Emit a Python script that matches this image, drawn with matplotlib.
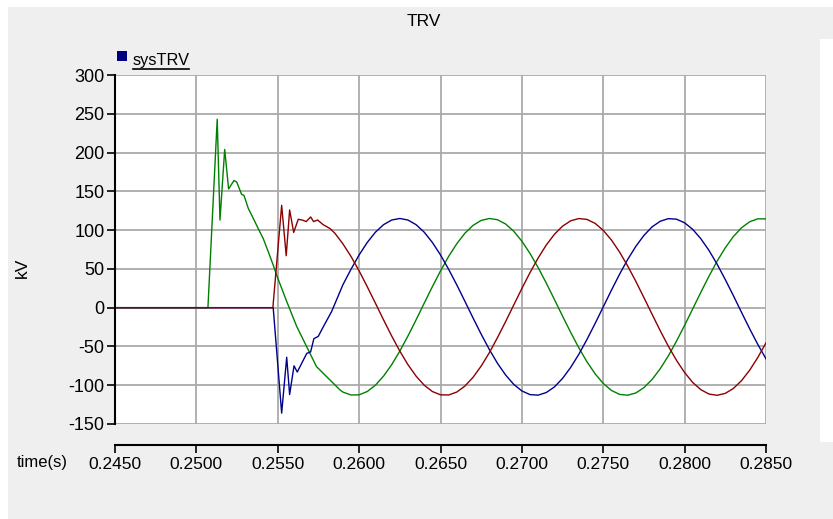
import numpy as np
import matplotlib
matplotlib.use('Agg')
import matplotlib.pyplot as plt
from matplotlib.patches import Rectangle
from matplotlib.lines import Line2D

plt.rcParams['font.family'] = ['Liberation Sans', 'DejaVu Sans']
plt.rcParams['axes.unicode_minus'] = False

# transient part after the breaker opens (time in s, value in kV)
t_green_tr = [0.2450, 0.25071, 0.25128, 0.25145, 0.25174, 0.25198, 0.25231, 0.25248,
              0.25278, 0.25292, 0.25319, 0.25350, 0.25380, 0.25411, 0.25442, 0.25472,
              0.25493, 0.25524, 0.25555, 0.25616, 0.25677, 0.25738, 0.25820, 0.25882]
v_green_tr = [0, 0, 243, 113, 204, 153, 164, 162,
              146, 145, 128, 115, 102, 89, 72, 55,
              42, 25, 8, -24, -50, -76, -93, -106]

t_red_tr = [0.2450, 0.25470, 0.25524, 0.25552, 0.25573, 0.25598, 0.25626, 0.25650,
            0.25675, 0.25702, 0.25720, 0.25745, 0.25779, 0.25821, 0.25851]
v_red_tr = [0, 0, 132, 67, 126, 97, 114, 113,
            111, 117, 111, 113, 107, 102, 96]

t_blue_tr = [0.2450, 0.25472, 0.25524, 0.25555, 0.25573, 0.25600, 0.25620, 0.25678,
             0.25702, 0.25722, 0.25749, 0.25779, 0.25831]
v_blue_tr = [0, 0, -136, -64, -112, -75, -83, -59,
             -57, -40, -37, -25, -5]

# steady oscillation afterwards, sampled every 0.5 ms
t_steady = [0.2590, 0.2595, 0.2600, 0.2605, 0.2610, 0.2615, 0.2620, 0.2625, 0.2630,
            0.2635, 0.2640, 0.2645, 0.2650, 0.2655, 0.2660, 0.2665, 0.2670, 0.2675,
            0.2680, 0.2685, 0.2690, 0.2695, 0.2700, 0.2705, 0.2710, 0.2715, 0.2720,
            0.2725, 0.2730, 0.2735, 0.2740, 0.2745, 0.2750, 0.2755, 0.2760, 0.2765,
            0.2770, 0.2775, 0.2780, 0.2785, 0.2790, 0.2795, 0.2800, 0.2805, 0.2810,
            0.2815, 0.2820, 0.2825, 0.2830, 0.2835, 0.2840, 0.2845, 0.2850]
v_blue = [29.4, 49.5, 68.0, 84.1, 97.3, 107.0, 113.0, 115.0, 113.0, 107.0, 97.3, 84.1,
          68.0, 49.5, 29.4, 8.2, -13.3, -34.2, -53.9, -71.7, -86.8, -98.9, -107.4,
          -112.1, -112.8, -109.4, -102.2, -91.2, -77.0, -60.1, -41.0, -20.4, 1.0, 22.4,
          43.0, 62.1, 79.0, 93.2, 104.2, 111.4, 114.8, 114.1, 109.4, 100.9, 88.8, 73.7,
          55.9, 36.2, 15.3, -6.2, -27.4, -47.5, -66.0]
v_green = [-108.8, -112.6, -112.4, -108.1, -100.0, -88.3, -73.5, -56.0, -36.5, -15.7,
           5.8, 27.0, 47.4, 66.1, 82.4, 96.0, 106.1, 112.5, 115.0, 113.4, 107.9, 98.5,
           85.7, 69.9, 51.7, 31.7, 10.5, -10.9, -31.9, -51.8, -69.8, -85.3, -97.7,
           -106.7, -111.8, -112.9, -110.0, -103.1, -92.6, -78.8, -62.1, -43.2, -22.7,
           -1.4, 20.0, 40.7, 60.1, 77.3, 91.8, 103.1, 110.8, 114.6, 114.4]
v_red = [82.4, 66.1, 47.4, 27.0, 5.8, -15.7, -36.5, -56.0, -73.5, -88.3, -100.0, -108.1,
         -112.4, -112.6, -108.8, -101.1, -89.8, -75.3, -58.1, -38.7, -18.0, 3.4, 24.7,
         45.2, 64.1, 80.8, 94.6, 105.1, 112.0, 114.9, 113.8, 108.7, 99.7, 87.3, 71.8,
         53.8, 34.0, 12.9, -8.5, -29.7, -49.7, -67.9, -83.7, -96.5, -105.8, -111.4,
         -113.0, -110.5, -104.1, -94.0, -80.5, -64.1, -45.4]

x_ticks = [0.2450, 0.2500, 0.2550, 0.2600, 0.2650, 0.2700, 0.2750, 0.2800, 0.2850]
y_ticks = [-150, -100, -50, 0, 50, 100, 150, 200, 250, 300]

W, H = 833, 519
fig = plt.figure(figsize=(W / 100, H / 100), dpi=100, facecolor='white')

def fx(px):
    return px / W

def fy(py):
    return 1 - py / H

# grey frame and the white strip on the right
fig.add_artist(Rectangle((fx(8), 0), 1, fy(7), transform=fig.transFigure,
                         facecolor='#efefef', edgecolor='none', zorder=-10))
fig.add_artist(Rectangle((fx(820), fy(442)), fx(13), (442 - 39) / H,
                         transform=fig.transFigure, facecolor='white',
                         edgecolor='none', zorder=-9))

ax = fig.add_axes([fx(115), fy(424), fx(766 - 115), (424 - 75) / H])
ax.set_facecolor('white')

ax.plot(t_green_tr + t_steady, v_green_tr + v_green, color='#008000', lw=1.0)
ax.plot(t_blue_tr + t_steady, v_blue_tr + v_blue, color='#00008b', lw=1.0)
ax.plot(t_red_tr + t_steady, v_red_tr + v_red, color='#8b0000', lw=1.0)

ax.set_xlim(0.245, 0.285)
ax.set_ylim(-150, 300)
ax.set_xticks(x_ticks)
ax.set_xticklabels(['%.4f' % v for v in x_ticks])
ax.set_yticks(y_ticks)

ax.set_axisbelow(True)
ax.grid(True, color='#aaaaaa', lw=1.3)
ax.get_xgridlines()[-1].set_visible(False)
ax.get_xgridlines()[0].set_visible(False)

for s in ['top', 'right']:
    ax.spines[s].set_visible(False)
ax.spines['left'].set_linewidth(1.5)
ax.spines['bottom'].set_linewidth(1.5)
ax.spines['bottom'].set_position(('outward', 15))

ax.tick_params(axis='y', direction='out', length=6, width=1.2, pad=1.5, labelsize=13)
ax.tick_params(axis='x', direction='out', length=6, width=1.2, pad=3, labelsize=12.5)

fig.text(fx(424), fy(22), 'TRV', ha='center', va='center', fontsize=12.5)
fig.text(fx(22), fy(268), 'kV', ha='center', va='center', rotation=90, fontsize=12.5)
fig.text(fx(42), fy(463), 'time(s)', ha='center', va='center', fontsize=12)

# legend entry
fig.add_artist(Rectangle((fx(117), fy(61)), fx(10), 10 / H, transform=fig.transFigure,
                         facecolor='#000080', edgecolor='none'))
fig.text(fx(133), fy(65), 'sysTRV', ha='left', va='baseline', fontsize=11.8)
fig.add_artist(Line2D([fx(133), fx(189)], [fy(69), fy(69)], transform=fig.transFigure,
                      color='black', lw=1.2))

fig.savefig('out.png', dpi=100, facecolor='white')
